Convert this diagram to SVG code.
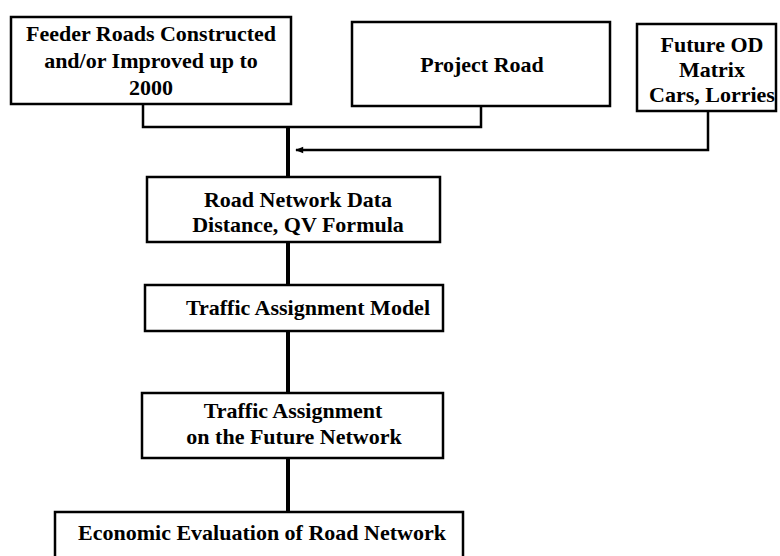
<svg xmlns="http://www.w3.org/2000/svg" width="780" height="556" viewBox="0 0 780 556">
  <defs>
    <style>
      .box { fill: #ffffff; stroke: #000000; stroke-width: 2.5; }
      .lbl { font-family: "Liberation Serif", "DejaVu Serif", serif; font-weight: bold; font-size: 22px; fill: #000000; text-anchor: middle; }
      .wire { fill: none; stroke: #000000; stroke-width: 2.5; }
      .trunk { fill: none; stroke: #000000; stroke-width: 4; }
    </style>
    <marker id="head" viewBox="0 0 10 10" refX="9" refY="5" markerWidth="10" markerHeight="8" markerUnits="userSpaceOnUse" orient="auto">
      <path d="M0,1 L10,5 L0,9 z" fill="#000000"/>
    </marker>
  </defs>
  <rect width="780" height="556" fill="#ffffff"/>

  <!-- connectors -->
  <g id="connectors">
    <path class="wire" d="M143,104 V127 H481 V106"/>
    <path class="wire" d="M708,111 V150 H296" marker-end="url(#head)"/>
    <path class="trunk" d="M288,127 V177"/>
    <path class="trunk" d="M288,242 V285"/>
    <path class="trunk" d="M288,331 V393"/>
    <path class="trunk" d="M288,458 V512"/>
  </g>

  <g id="feeder-roads">
    <rect class="box" x="11" y="17" width="280" height="87"/>
    <text class="lbl" x="151" y="41">Feeder Roads Constructed</text>
    <text class="lbl" x="151" y="68">and/or Improved up to</text>
    <text class="lbl" x="151" y="95">2000</text>
  </g>

  <g id="project-road">
    <rect class="box" x="352" y="22" width="258" height="84"/>
    <text class="lbl" x="482" y="72">Project Road</text>
  </g>

  <g id="future-od">
    <rect class="box" x="637" y="24" width="139" height="87"/>
    <text class="lbl" x="712" y="52">Future OD</text>
    <text class="lbl" x="712" y="77">Matrix</text>
    <text class="lbl" x="712" y="102">Cars, Lorries</text>
  </g>

  <g id="road-network-data">
    <rect class="box" x="147" y="177" width="293" height="65"/>
    <text class="lbl" x="298" y="207">Road Network Data</text>
    <text class="lbl" x="298" y="232">Distance, QV Formula</text>
  </g>

  <g id="assignment-model">
    <rect class="box" x="145" y="285" width="298" height="46"/>
    <text class="lbl" x="308" y="315">Traffic Assignment Model</text>
  </g>

  <g id="future-assignment">
    <rect class="box" x="142" y="393" width="301" height="65"/>
    <text class="lbl" x="293" y="418">Traffic Assignment</text>
    <text class="lbl" x="294" y="444">on the Future Network</text>
  </g>

  <g id="economic-evaluation">
    <rect class="box" x="55" y="512" width="408" height="60"/>
    <text class="lbl" x="262" y="540">Economic Evaluation of Road Network</text>
  </g>
</svg>
